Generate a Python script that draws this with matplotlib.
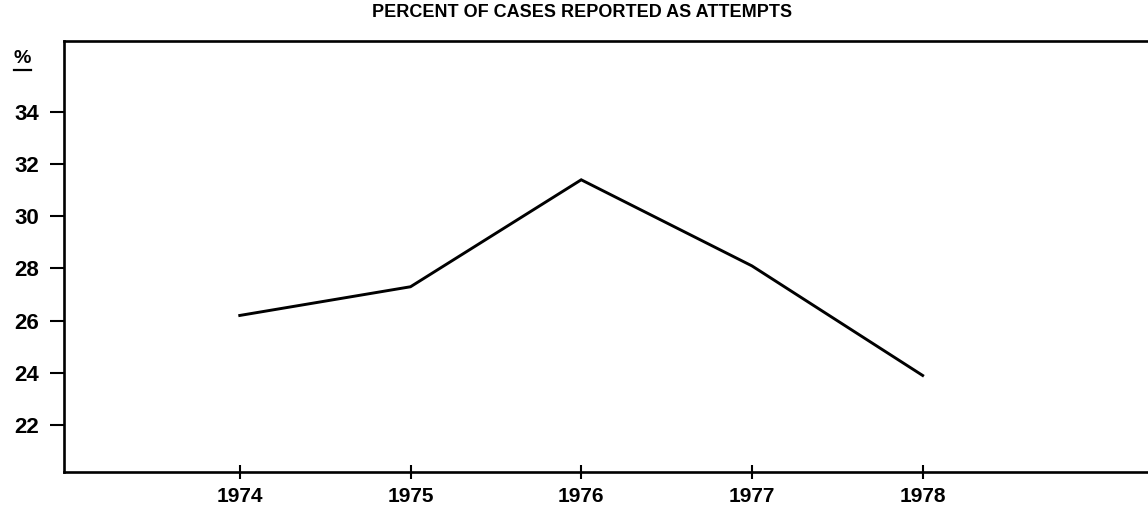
import matplotlib.pyplot as plt
from matplotlib.lines import Line2D

years = [1974, 1975, 1976, 1977, 1978]
pct_attempts = [26.2, 27.3, 31.4, 28.1, 23.9]
y_ticks = [22, 24, 26, 28, 30, 32, 34]

plt.rcParams['font.family'] = ['Liberation Sans', 'DejaVu Sans']

fig = plt.figure(figsize=(11.48, 5.15), dpi=100)
ax = fig.add_axes([0.0557, 0.0835, 0.9443, 0.8369])

ax.plot(years, pct_attempts, color='black', linewidth=2.1, solid_joinstyle='miter')

ax.set_xlim(1972.97, 1979.32)
ax.set_ylim(20.2, 36.72)

ax.spines['right'].set_visible(False)
for s in ['left', 'top', 'bottom']:
    ax.spines[s].set_linewidth(1.9)

ax.set_xticks(years)
ax.set_xticklabels([str(y) for y in years], fontsize=15, fontweight='bold')
ax.set_yticks(y_ticks)
ax.set_yticklabels([str(v) for v in y_ticks], fontsize=16, fontweight='bold')
ax.tick_params(axis='x', direction='inout', length=9.5, width=1.5, pad=6)
ax.tick_params(axis='y', direction='out', length=10, width=1.5, pad=8)

fig.text(0.507, 0.975, 'PERCENT OF CASES REPORTED AS ATTEMPTS',
         ha='center', va='center', fontsize=13, fontweight='bold')

# "%" unit label with underline
fig.text(0.019, 0.886, '%', ha='center', va='center', fontsize=14, fontweight='bold')
fig.add_artist(Line2D([0.012, 0.027], [0.864, 0.864], color='black', linewidth=1.6))

fig.savefig('out.png', dpi=100)
